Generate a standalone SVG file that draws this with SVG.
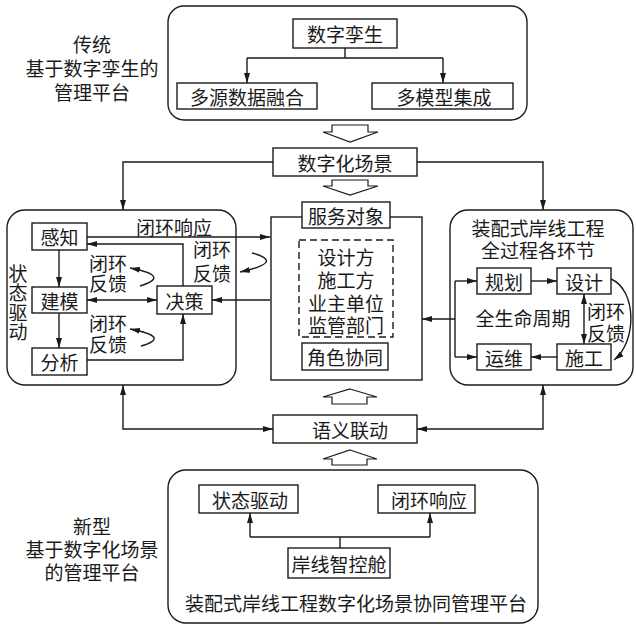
<svg xmlns="http://www.w3.org/2000/svg" width="636" height="627" viewBox="0 0 636 627">
<style>
text{font-family:"Noto Sans CJK SC","Noto Sans CJK JP",sans-serif;font-size:19px;fill:#1a1a1a;text-anchor:middle;dominant-baseline:central}
.b{fill:#fff;stroke:#1a1a1a;stroke-width:1.4}
.c{fill:none;stroke:#1a1a1a;stroke-width:1.4}
.h{fill:#fff;stroke:#1a1a1a;stroke-width:1.2}
.d{fill:none;stroke:#1a1a1a;stroke-width:1.4;stroke-dasharray:7 4}
</style>
<defs>
<marker id="a" viewBox="0 0 10 6" refX="10" refY="3" markerWidth="10" markerHeight="6" markerUnits="userSpaceOnUse" orient="auto-start-reverse"><path d="M0,0L10,3L0,6z" fill="#1a1a1a"/></marker>
</defs>
<rect width="636" height="627" fill="#fff"/>

<g id="label-traditional">
<text x="92" y="43">传统<tspan x="92" dy="24">基于数字孪生的</tspan><tspan x="92" dy="24">管理平台</tspan></text>
</g>
<g id="label-new">
<text x="92" y="525">新型<tspan x="92" dy="23">基于数字化场景</tspan><tspan x="92" dy="23">的管理平台</tspan></text>
</g>

<g id="top-platform">
<rect class="b" x="168" y="6" width="359" height="114" rx="16"/>
<g id="n-twin"><rect class="b" x="293" y="19" width="104" height="29"/><text x="345" y="33.5">数字孪生</text></g>
<g id="n-fusion"><rect class="b" x="177" y="83" width="140" height="26"/><text x="247" y="96">多源数据融合</text></g>
<g id="n-models"><rect class="b" x="372" y="83" width="141" height="26"/><text x="444" y="96">多模型集成</text></g>
</g>

<g id="n-scene"><rect class="b" x="273" y="148" width="144" height="28"/><text x="345" y="162">数字化场景</text></g>

<g id="left-platform">
<rect class="b" x="7" y="210" width="229" height="175" rx="18"/>
<text x="174" y="226">闭环响应</text>
<text x="18" y="303" writing-mode="vertical-rl" letter-spacing="0.5">状态驱动</text>
<g id="n-sense"><rect class="b" x="32" y="223" width="55" height="27"/><text x="59.5" y="236.5">感知</text></g>
<g id="n-model"><rect class="b" x="32" y="287" width="55" height="26"/><text x="59.5" y="300">建模</text></g>
<g id="n-analysis"><rect class="b" x="32" y="348" width="55" height="27"/><text x="59.5" y="361.5">分析</text></g>
<g id="n-decision"><rect class="b" x="157" y="286" width="55" height="28"/><text x="184.5" y="300">决策</text></g>
<text x="108" y="262">闭环<tspan x="108" dy="20">反馈</tspan></text>
<text x="108" y="322">闭环<tspan x="108" dy="21">反馈</tspan></text>
<text x="212" y="248">闭环<tspan x="212" dy="24">反馈</tspan></text>
</g>

<g id="center-objects">
<rect class="b" x="271" y="217" width="151" height="163"/>
<g id="n-service"><rect class="b" x="302" y="202" width="88" height="26"/><text x="346" y="215">服务对象</text></g>
<rect class="d" x="299" y="240" width="94" height="97"/>
<text x="346" y="256">设计方<tspan x="346" dy="23">施工方</tspan><tspan x="346" dy="23">业主单位</tspan><tspan x="346" dy="22">监管部门</tspan></text>
<g id="n-role"><rect class="b" x="302" y="343" width="86" height="27"/><text x="345" y="356.5">角色协同</text></g>
</g>

<g id="right-platform">
<rect class="b" x="450" y="210" width="183" height="175" rx="18"/>
<text x="538" y="227">装配式岸线工程<tspan x="538" dy="22">全过程各环节</tspan></text>
<g id="n-plan"><rect class="b" x="477" y="268" width="54" height="26"/><text x="504" y="281">规划</text></g>
<g id="n-design"><rect class="b" x="557" y="268" width="54" height="26"/><text x="584" y="281">设计</text></g>
<g id="n-om"><rect class="b" x="477" y="344" width="54" height="26"/><text x="504" y="357">运维</text></g>
<g id="n-build"><rect class="b" x="557" y="344" width="54" height="26"/><text x="584" y="357">施工</text></g>
<text x="523" y="317">全生命周期</text>
<text x="606" y="310">闭环<tspan x="606" dy="22">反馈</tspan></text>
</g>

<g id="n-semantic"><rect class="b" x="273" y="415" width="144" height="28"/><text x="350" y="429">语义联动</text></g>

<g id="bottom-platform">
<rect class="b" x="168" y="470" width="370" height="153" rx="18"/>
<g id="n-state"><rect class="b" x="199" y="485" width="99" height="28"/><text x="250" y="499">状态驱动</text></g>
<g id="n-loop"><rect class="b" x="378" y="485" width="97" height="28"/><text x="429" y="499">闭环响应</text></g>
<g id="n-cabin"><rect class="b" x="288" y="548" width="102" height="30"/><text x="339" y="563">岸线智控舱</text></g>
<text x="356" y="602">装配式岸线工程数字化场景协同管理平台</text>
</g>

<g id="connectors">
<path class="c" d="M345,48V58M247,58H443"/>
<path class="c" d="M247,58V83" marker-end="url(#a)"/>
<path class="c" d="M443,58V83" marker-end="url(#a)"/>
<polygon class="h" points="332,125 368,125 368,132 378,132 350,142 323,132 332,132"/>
<polygon class="h" points="332,180 368,180 368,186 378,186 350,195 323,186 332,186"/>
<path class="c" d="M273,162H123V210" marker-end="url(#a)"/>
<path class="c" d="M417,162H543V210" marker-end="url(#a)"/>
<path class="c" d="M87,237H270" marker-end="url(#a)"/>
<path class="c" d="M183,286V244H87" marker-end="url(#a)"/>
<path class="c" d="M59,250V287" marker-end="url(#a)"/>
<path class="c" d="M59,313V348" marker-end="url(#a)"/>
<path class="c" d="M87,300H157" marker-start="url(#a)" marker-end="url(#a)"/>
<path class="c" d="M270,300H212" marker-end="url(#a)"/>
<path class="c" d="M87,360H183V314" marker-end="url(#a)"/>
<path class="c" d="M140,286Q172,276 130,268" marker-end="url(#a)"/>
<path class="c" d="M141,346Q172,337 130,329" marker-end="url(#a)"/>
<path class="c" d="M252,253Q286,262 240,272" marker-end="url(#a)"/>
<path class="c" d="M455,281V357"/>
<path class="c" d="M455,281H477" marker-end="url(#a)"/>
<path class="c" d="M455,357H477" marker-end="url(#a)"/>
<path class="c" d="M455,319H422" marker-end="url(#a)"/>
<path class="c" d="M531,281H557" marker-end="url(#a)"/>
<path class="c" d="M557,357H531" marker-end="url(#a)"/>
<path class="c" d="M584,294V344" marker-start="url(#a)" marker-end="url(#a)"/>
<path class="c" d="M611,279C637,290 637,342 614,360" marker-end="url(#a)"/>
<polygon class="h" points="350,389 377,397 367,397 367,404 332,404 332,397 323,397"/>
<path class="c" d="M123,385V429H273" marker-start="url(#a)" marker-end="url(#a)"/>
<path class="c" d="M543,385V429H417" marker-start="url(#a)" marker-end="url(#a)"/>
<polygon class="h" points="350,450 377,459 367,459 367,465 332,465 332,459 323,459"/>
<path class="c" d="M340,548V537M250,537H430"/>
<path class="c" d="M250,537V513" marker-end="url(#a)"/>
<path class="c" d="M430,537V513" marker-end="url(#a)"/>
</g>
</svg>
